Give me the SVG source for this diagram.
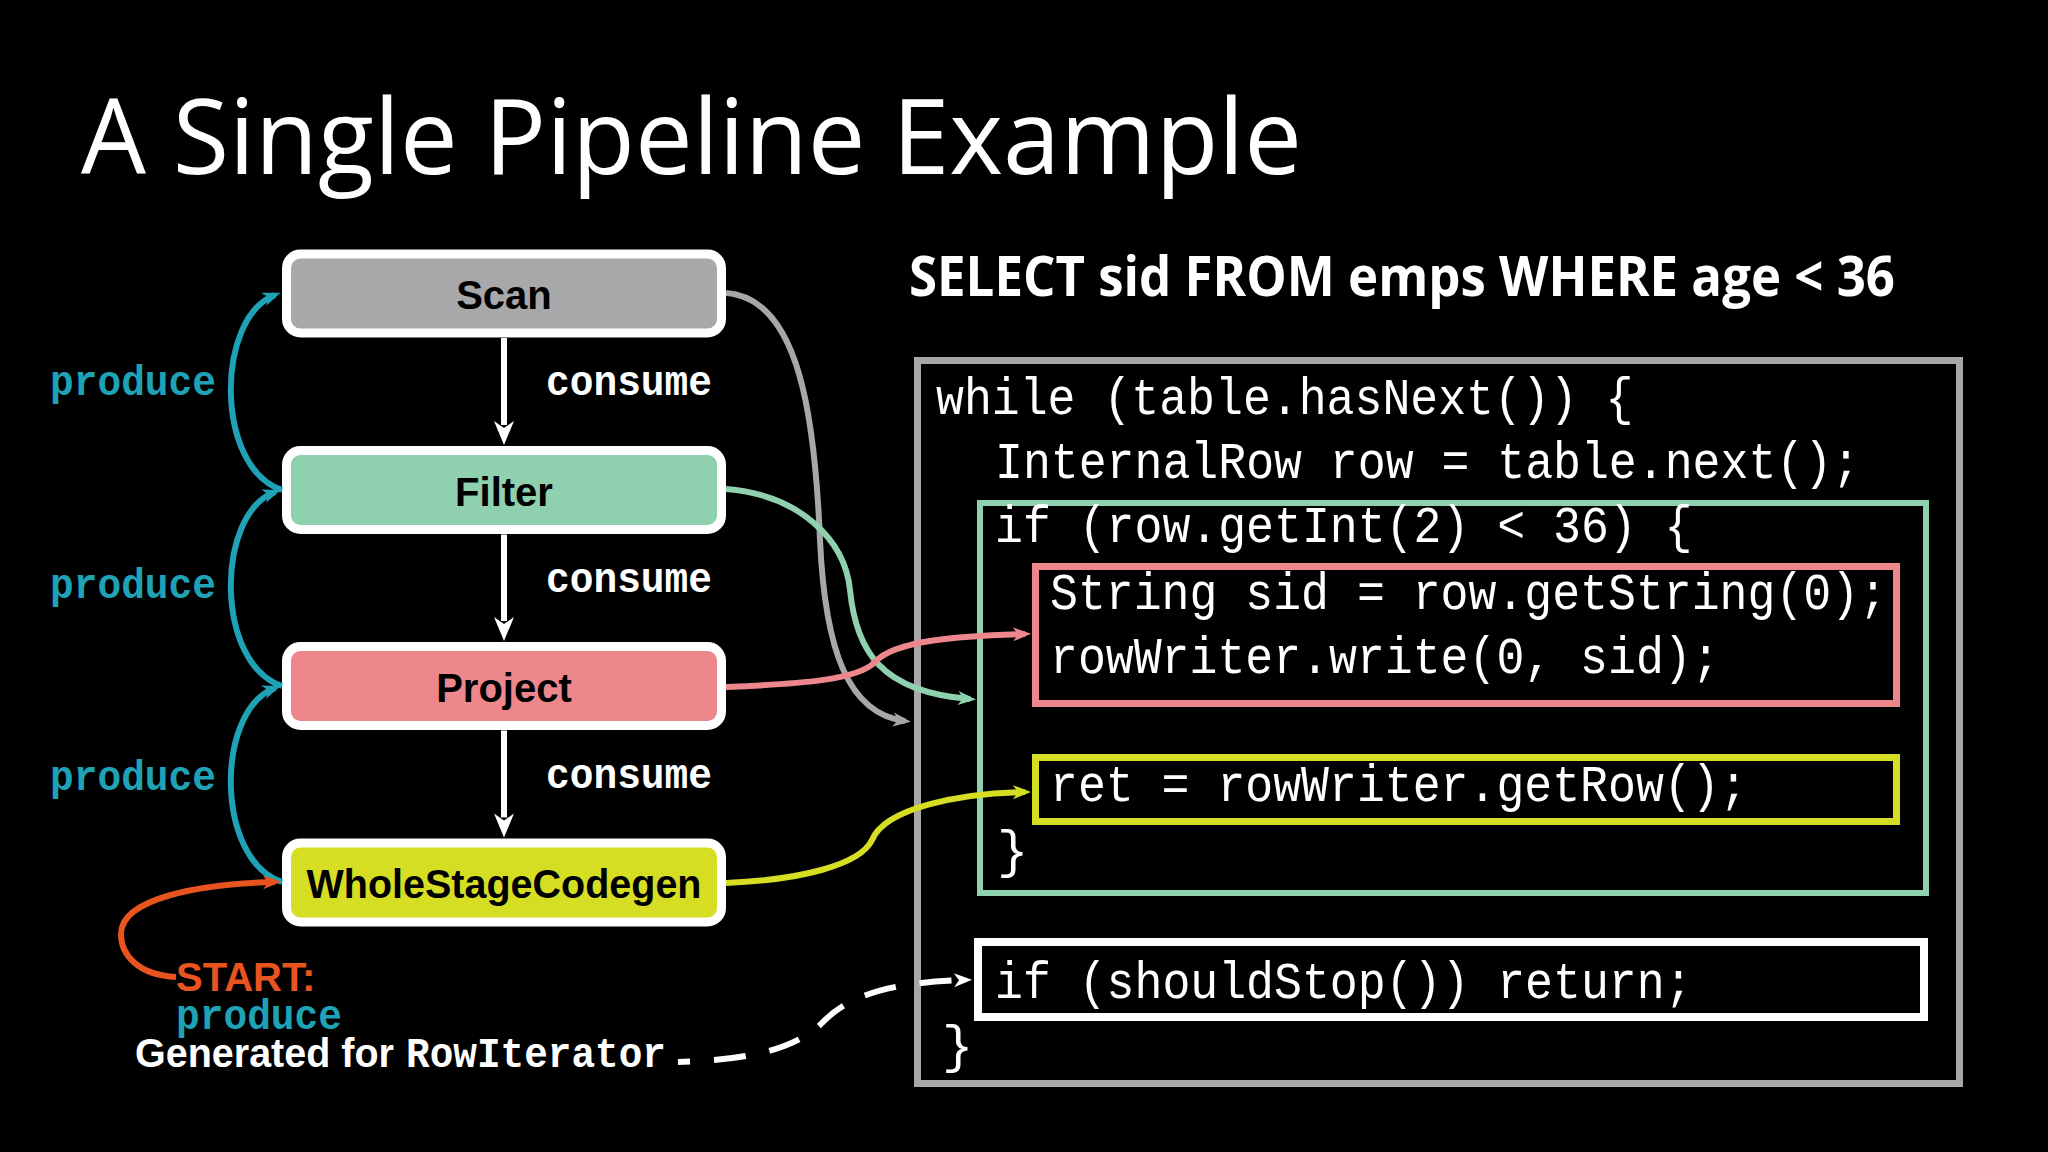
<svg xmlns="http://www.w3.org/2000/svg" width="2048" height="1152" viewBox="0 0 2048 1152">
<defs>
<style>
.node rect{stroke:#ffffff;stroke-width:9}
.nlabel{font-family:"Liberation Sans",Arial,sans-serif;font-weight:700;font-size:40px;fill:#000;text-anchor:middle}
.code{font-family:"Liberation Mono","Courier New",monospace;font-size:52px;fill:#fff}
.mono{font-family:"Liberation Mono","Courier New",monospace;font-weight:700;font-size:43px}
.conn{fill:none;stroke-width:6;stroke-linecap:butt}
.cbox{fill:none}
</style>
<marker id="mW" markerUnits="userSpaceOnUse" markerWidth="26" markerHeight="22" refX="4" refY="10" orient="auto" overflow="visible"><path d="M0,0 L24,10 L0,20 L7,10 Z" fill="#fff"/></marker>
<marker id="mTeal" markerUnits="userSpaceOnUse" markerWidth="20" markerHeight="16" refX="12" refY="7" orient="auto" overflow="visible"><path d="M0,0 L18,7 L0,14 L5,7 Z" fill="#1fa2b6"/></marker>
<marker id="mOrange" markerUnits="userSpaceOnUse" markerWidth="20" markerHeight="16" refX="12" refY="7" orient="auto" overflow="visible"><path d="M0,0 L18,7 L0,14 L5,7 Z" fill="#e8541f"/></marker>
<marker id="mGray" markerUnits="userSpaceOnUse" markerWidth="20" markerHeight="16" refX="12" refY="7" orient="auto" overflow="visible"><path d="M0,0 L18,7 L0,14 L5,7 Z" fill="#a7a6a8"/></marker>
<marker id="mGreen" markerUnits="userSpaceOnUse" markerWidth="20" markerHeight="16" refX="12" refY="7" orient="auto" overflow="visible"><path d="M0,0 L18,7 L0,14 L5,7 Z" fill="#8fd1ae"/></marker>
<marker id="mPink" markerUnits="userSpaceOnUse" markerWidth="20" markerHeight="16" refX="12" refY="7" orient="auto" overflow="visible"><path d="M0,0 L18,7 L0,14 L5,7 Z" fill="#ee878b"/></marker>
<marker id="mYellow" markerUnits="userSpaceOnUse" markerWidth="20" markerHeight="16" refX="12" refY="7" orient="auto" overflow="visible"><path d="M0,0 L18,7 L0,14 L5,7 Z" fill="#d6de24"/></marker>
<marker id="mWhite" markerUnits="userSpaceOnUse" markerWidth="20" markerHeight="16" refX="12" refY="7" orient="auto" overflow="visible"><path d="M0,0 L18,7 L0,14 L5,7 Z" fill="#fff"/></marker>
</defs>
<rect x="0" y="0" width="2048" height="1152" fill="#000"/>

<text x="81" y="174" font-family="'Open Sans','Noto Sans',sans-serif" font-size="104" fill="#fff" textLength="1221" lengthAdjust="spacingAndGlyphs">A Single Pipeline Example</text>
<text x="909" y="296" font-family="'Open Sans','Noto Sans',sans-serif" font-weight="700" font-size="56" fill="#fff" textLength="986" lengthAdjust="spacingAndGlyphs">SELECT sid FROM emps WHERE age &lt; 36</text>

<g id="code-block">
<rect class="cbox" x="917.5" y="360.5" width="1042" height="723" stroke="#a7a6a8" stroke-width="7"/>
<rect class="cbox" x="980" y="503" width="946" height="390" stroke="#8fd1ae" stroke-width="6"/>
<rect class="cbox" x="1035.5" y="566.5" width="861" height="137" stroke="#ee878b" stroke-width="7"/>
<rect class="cbox" x="1035.5" y="757.5" width="861" height="64" stroke="#d6de24" stroke-width="7"/>
<rect class="cbox" x="978" y="942" width="946" height="75" stroke="#ffffff" stroke-width="8"/>
<text class="code" x="936" y="414" textLength="697.5" lengthAdjust="spacingAndGlyphs">while (table.hasNext()) {</text>
<text class="code" x="995" y="478" textLength="865" lengthAdjust="spacingAndGlyphs">InternalRow row = table.next();</text>
<text class="code" x="995" y="542" textLength="697.5" lengthAdjust="spacingAndGlyphs">if (row.getInt(2) &lt; 36) {</text>
<text class="code" x="1050" y="609" textLength="837" lengthAdjust="spacingAndGlyphs">String sid = row.getString(0);</text>
<text class="code" x="1050" y="673" textLength="669.6" lengthAdjust="spacingAndGlyphs">rowWriter.write(0, sid);</text>
<text class="code" x="1050" y="801" textLength="697.5" lengthAdjust="spacingAndGlyphs">ret = rowWriter.getRow();</text>
<text class="code" x="997" y="867">}</text>
<text class="code" x="995" y="998" textLength="697.5" lengthAdjust="spacingAndGlyphs">if (shouldStop()) return;</text>
<text class="code" x="942" y="1062">}</text>
</g>

<g id="node-scan" class="node">
<rect x="286.5" y="254" width="435" height="79" rx="14" fill="#a8a7a9"/>
<text class="nlabel" x="504" y="309">Scan</text>
</g>
<g id="node-filter" class="node">
<rect x="286.5" y="450.5" width="435" height="79" rx="14" fill="#8fd1ae"/>
<text class="nlabel" x="504" y="505.5">Filter</text>
</g>
<g id="node-project" class="node">
<rect x="286.5" y="646.5" width="435" height="79" rx="14" fill="#ee878b"/>
<text class="nlabel" x="504" y="701.5">Project</text>
</g>
<g id="node-wsc" class="node">
<rect x="286.5" y="843" width="435" height="79" rx="14" fill="#d6de24"/>
<text class="nlabel" x="504" y="898" textLength="395" lengthAdjust="spacingAndGlyphs">WholeStageCodegen</text>
</g>

<g id="connectors">
<path class="conn" d="M504 338 L504 425" stroke="#fff" stroke-width="5" marker-end="url(#mW)"/>
<path class="conn" d="M504 534.5 L504 621" stroke="#fff" stroke-width="5" marker-end="url(#mW)"/>
<path class="conn" d="M504 730.5 L504 817.5" stroke="#fff" stroke-width="5" marker-end="url(#mW)"/>

<path class="conn" d="M282 490 C215 468 215 318 275 295" stroke="#1fa2b6" marker-end="url(#mTeal)"/>
<path class="conn" d="M282 686 C215 664 215 514 275 492" stroke="#1fa2b6" marker-end="url(#mTeal)"/>
<path class="conn" d="M282 882 C215 860 215 710 275 688" stroke="#1fa2b6" marker-end="url(#mTeal)"/>

<path class="conn" d="M176 977 C138 975 121 955 121 934 C121 898 200 884 275 882" stroke="#e8541f" marker-end="url(#mOrange)"/>

<path class="conn" d="M726 293 C800 298 815 420 820 540 C825 650 848 714 905 721" stroke="#a7a6a8" marker-end="url(#mGray)"/>
<path class="conn" d="M726 489 C800 495 845 540 850 590 C856 650 880 692 970 699" stroke="#8fd1ae" marker-end="url(#mGreen)"/>
<path class="conn" d="M726 687 C800 684 858 680 875 662 C895 640 960 636 1025 634" stroke="#ee878b" marker-end="url(#mPink)"/>
<path class="conn" d="M726 883 C800 880 860 865 872 840 C885 808 960 793 1025 792" stroke="#d6de24" marker-end="url(#mYellow)"/>
<path class="conn" d="M678 1062 C760 1060 800 1045 823 1022 C846 998 885 982 966 980" stroke="#fff" stroke-width="7" stroke-dasharray="32 24" stroke-dashoffset="20" marker-end="url(#mWhite)"/>
</g>

<g id="labels">
<text class="mono" x="546" y="395" fill="#fff" textLength="166" lengthAdjust="spacingAndGlyphs">consume</text>
<text class="mono" x="546" y="592" fill="#fff" textLength="166" lengthAdjust="spacingAndGlyphs">consume</text>
<text class="mono" x="546" y="788" fill="#fff" textLength="166" lengthAdjust="spacingAndGlyphs">consume</text>
<text class="mono" x="50" y="395" fill="#1fa2b6" textLength="166" lengthAdjust="spacingAndGlyphs">produce</text>
<text class="mono" x="50" y="598" fill="#1fa2b6" textLength="166" lengthAdjust="spacingAndGlyphs">produce</text>
<text class="mono" x="50" y="790" fill="#1fa2b6" textLength="166" lengthAdjust="spacingAndGlyphs">produce</text>
<text x="176" y="991" font-family="'Liberation Sans',Arial,sans-serif" font-weight="700" font-size="40" fill="#e8541f">START:</text>
<text class="mono" x="176" y="1029" fill="#1fa2b6" textLength="166" lengthAdjust="spacingAndGlyphs">produce</text>
<text x="135" y="1067" font-family="'Liberation Sans',Arial,sans-serif" font-weight="700" font-size="40" fill="#fff" textLength="259" lengthAdjust="spacingAndGlyphs">Generated for</text>
<text class="mono" x="406" y="1067" fill="#fff" textLength="260" lengthAdjust="spacingAndGlyphs">RowIterator</text>
</g>
</svg>
